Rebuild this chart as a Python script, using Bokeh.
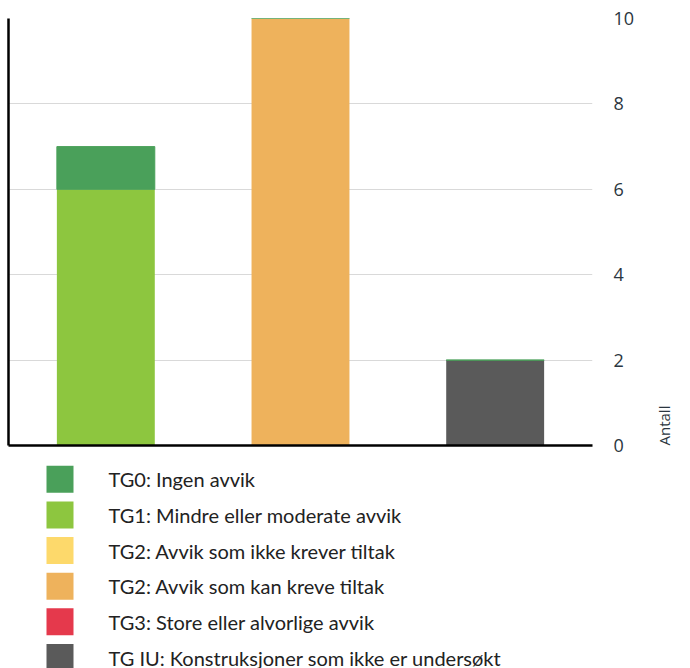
import math
from bokeh.plotting import figure
from bokeh.models import FactorRange, Range1d, LinearAxis, Label, ColumnDataSource, FixedTicker
from bokeh.layouts import column
from bokeh.core.properties import value
from bokeh.embed import file_html
from bokeh.resources import INLINE

# ---- data ----
categories = ["Del 1", "Del 2", "Del 3"]
series_names = [
    "TG0: Ingen avvik",
    "TG1: Mindre eller moderate avvik",
    "TG2: Avvik som ikke krever tiltak",
    "TG2: Avvik som kan kreve tiltak",
    "TG3: Store eller alvorlige avvik",
    "TG IU: Konstruksjoner som ikke er undersøkt",
]
series_keys = ["tg0", "tg1", "tg2a", "tg2b", "tg3", "tgiu"]
series_colors = ["#4aa05a", "#8dc63f", "#fdd96b", "#eeb25c", "#e5394c", "#5a5a5a"]
tg0 = [1, 0, 0]
tg1 = [6, 0, 0]
tg2a = [0, 0, 0]
tg2b = [0, 10, 0]
tg3 = [0, 0, 0]
tgiu = [0, 0, 2]
y_ticks = [0, 2, 4, 6, 8, 10]
axis_title = "Antall"

data = {"cat": categories, "tg0": tg0, "tg1": tg1, "tg2a": tg2a,
        "tg2b": tg2b, "tg3": tg3, "tgiu": tgiu}
src = ColumnDataSource(data)

BL, BR = 8, 98
MAIN_H = 18 + 427 + 12
p = figure(x_range=FactorRange(*categories, range_padding=0),
           y_range=Range1d(0, 10),
           frame_width=584, frame_height=427,
           min_border_left=BL, min_border_top=18, min_border_bottom=12, min_border_right=BR,
           output_backend="svg", toolbar_location=None,
           x_axis_location="below", y_axis_location="right")
p.outline_line_color = None
p.background_fill_color = "white"

# stack from bottom: TG IU .. TG0
order = list(range(len(series_keys)))[::-1]
stack_keys = [series_keys[i] for i in order]
stack_cols = [series_colors[i] for i in order]
renderers = p.vbar_stack(stack_keys, x="cat", width=0.503, source=src,
                         color=stack_cols, line_color=None)
renderers[-1].glyph.line_color = series_colors[0]
renderers[-1].glyph.line_width = 1

# grid
p.xgrid.visible = False
p.ygrid.grid_line_color = "#d9d9d9"
p.ygrid.grid_line_width = 1
p.ygrid.ticker = FixedTicker(ticks=y_ticks[1:])

# right axis (tick labels + title)
ya = p.yaxis[0]
ya.ticker = FixedTicker(ticks=y_ticks)
ya.axis_line_color = None
ya.major_tick_line_color = None
ya.minor_tick_line_color = None
ya.major_label_standoff = 15
ya.major_label_text_font = "Open Sans"
ya.major_label_text_font_size = "18px"
ya.major_label_text_color = "#2b3640"

use_axis_label = hasattr(ya, "axis_label_orientation")
if use_axis_label:
    ya.axis_label = axis_title
    ya.axis_label_orientation = math.pi / 2
    ya.axis_label_standoff = 27
    ya.axis_label_text_font = "Open Sans"
    ya.axis_label_text_font_size = "15px"
    ya.axis_label_text_font_style = "normal"
    ya.axis_label_text_color = "#2b3640"
    if hasattr(ya, "axis_label_align"):
        ya.axis_label_align = "start"

# bottom axis: only a black line
xa = p.xaxis[0]
xa.major_tick_line_color = None
xa.minor_tick_line_color = None
xa.major_label_text_font_size = "0px"
xa.major_label_standoff = 0
xa.axis_line_color = "black"
xa.axis_line_width = 2.5

# left axis: only a black line
la = LinearAxis(ticker=FixedTicker(ticks=[]))
la.major_tick_line_color = None
la.minor_tick_line_color = None
la.major_label_text_font_size = "0px"
la.major_label_standoff = 0
la.axis_line_color = "black"
la.axis_line_width = 2.5
p.add_layout(la, "left")

if not use_axis_label:
    p.add_layout(Label(x=3.406, y=0, text=axis_title, angle=math.pi / 2,
                       text_align="left", text_baseline="alphabetic",
                       text_font="Open Sans", text_font_size="15px",
                       text_color="#2b3640"))

# ---- legend figure (x in pixels from the chart frame's left edge) ----
LEG_H = 668 - MAIN_H
lf = figure(x_range=Range1d(0, 584), y_range=Range1d(LEG_H, 0),
            frame_width=584, frame_height=LEG_H,
            min_border_left=BL, min_border_right=BR, min_border_top=0, min_border_bottom=0,
            output_backend="svg", toolbar_location=None,
            x_axis_location=None, y_axis_location=None)
lf.outline_line_color = None
lf.xgrid.visible = False
lf.ygrid.visible = False
row_y = [478.8 - MAIN_H + i * 35.64 for i in range(len(series_names))]
lsrc = ColumnDataSource({"name": series_names, "color": series_colors, "y": row_y,
                         "x": [51.5] * len(series_names), "tx": [100] * len(series_names)})
lf.rect(x="x", y="y", width=27, height=27, fill_color="color", line_color=None, source=lsrc)
lf.text(x="tx", y="y", text="name", source=lsrc, text_baseline="middle", text_align="left",
        text_font=value("Lato"), text_font_size="20px", text_color="#222222")

layout = column(p, lf, spacing=0)
open("out.html", "w").write(file_html(layout, INLINE))
